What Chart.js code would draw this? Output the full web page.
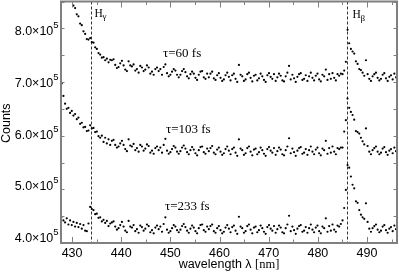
<!DOCTYPE html>
<html><head><meta charset="utf-8">
<script src="https://cdn.jsdelivr.net/npm/chart.js@4.4.1/dist/chart.umd.min.js"></script>
<style>html,body{margin:0;padding:0;background:#fff;overflow:hidden}canvas{display:block}</style>
</head><body>
<canvas id="c" width="399" height="272"></canvas>
<script>
// wavelength in nm
const wavelength = [
427.90,428.24,428.58,428.92,429.26,429.60,429.94,430.28,430.62,430.96,
431.30,431.64,431.98,432.32,432.66,433.00,433.34,433.68,434.02,434.36,
434.70,435.04,435.38,435.72,436.06,436.40,436.74,437.08,437.42,437.76,
438.10,438.44,438.78,439.12,439.46,439.80,440.14,440.48,440.82,441.16,
441.50,441.84,442.18,442.52,442.86,443.20,443.54,443.88,444.22,444.56,
444.90,445.24,445.58,445.92,446.26,446.60,446.94,447.28,447.62,447.96,
448.30,448.64,448.98,449.32,449.66,450.00,450.34,450.68,451.02,451.36,
451.70,452.04,452.38,452.72,453.06,453.40,453.74,454.08,454.42,454.76,
455.10,455.44,455.78,456.12,456.46,456.80,457.14,457.48,457.82,458.16,
458.50,458.84,459.18,459.52,459.86,460.20,460.54,460.88,461.22,461.56,
461.90,462.24,462.58,462.92,463.26,463.60,463.94,464.28,464.62,464.96,
465.30,465.64,465.98,466.32,466.66,467.00,467.34,467.68,468.02,468.36,
468.70,469.04,469.38,469.72,470.06,470.40,470.74,471.08,471.42,471.76,
472.10,472.44,472.78,473.12,473.46,473.80,474.14,474.48,474.82,475.16,
475.50,475.84,476.18,476.52,476.86,477.20,477.54,477.88,478.22,478.56,
478.90,479.24,479.58,479.92,480.26,480.60,480.94,481.28,481.62,481.96,
482.30,482.64,482.98,483.32,483.66,484.00,484.34,484.68,485.02,485.36,
485.70,486.04,486.38,486.72,487.06,487.40,487.74,488.08,488.42,488.76,
489.10,489.44,489.78,490.12,490.46,490.80,491.14,491.48,491.82,492.16,
492.50,492.84,493.18,493.52,493.86,494.20,494.54,494.88,495.22,495.56,
495.90];

// counts in thousands
const tau60 = [
930,909,896,877,868,855,850,841,836,824,
820,806,803,791,786,776,775,778,770,769,
760,757,749,746,740,741,735,738,731,736,
735,737,726,720,722,729,734,725,717,714,
733,725,723,727,715,718,711,724,721,714,
717,725,721,709,713,707,718,721,714,718,
707,722,727,710,704,707,713,718,715,707,
702,707,714,718,712,704,700,708,713,709,
701,697,707,713,714,702,699,709,702,709,
713,700,697,706,710,701,695,698,706,711,
703,696,706,709,699,693,726,707,704,695,
698,708,711,701,694,705,707,696,700,709,
704,697,693,706,710,703,699,708,695,702,
709,705,696,694,704,711,724,698,707,700,
693,703,708,710,697,699,706,695,704,711,
701,696,705,709,698,694,707,704,717,697,
708,699,710,701,696,708,705,709,708,715,
732,794,768,757,752,748,733,728,718,716,
711,705,735,708,699,695,704,708,711,701,
696,699,707,710,700,695,703,706,698,709,
702];

const tau103 = [
690,666,651,641,643,633,637,628,631,621,
624,612,614,605,606,598,599,609,603,604,
596,597,588,585,589,577,585,574,582,571,
579,581,571,566,568,574,579,571,563,559,
582,570,568,573,561,565,558,571,568,560,
564,572,569,556,560,554,565,568,561,566,
556,571,583,560,554,557,563,569,566,558,
554,559,566,570,564,557,553,561,567,562,
555,551,561,567,568,557,554,564,559,565,
569,556,553,562,566,558,552,555,563,568,
560,553,563,566,556,550,582,564,561,552,
555,565,568,558,551,562,564,553,557,566,
561,554,550,563,567,560,556,565,552,559,
566,562,553,551,561,568,584,555,564,557,
550,560,565,567,554,556,563,552,561,568,
558,553,562,566,555,551,564,561,579,554,
565,556,568,558,553,565,563,566,566,597,
619,661,643,635,629,620,598,596,593,585,
578,572,603,569,558,553,561,565,568,558,
553,556,564,567,557,552,560,563,555,566,
559];

const tau233 = [
432,425,421,429,417,425,416,422,413,420,
412,418,409,416,405,404,419,451,447,445,
437,438,430,431,423,426,420,424,414,419,
421,423,413,407,410,416,422,413,405,402,
424,413,411,416,404,408,401,415,412,405,
409,417,414,402,406,400,411,415,408,413,
403,418,431,407,401,404,410,416,413,406,
402,407,414,418,412,405,401,409,415,411,
404,400,410,416,417,406,403,413,408,414,
417,404,401,410,414,406,400,403,411,416,
409,402,412,415,405,399,432,413,410,401,
404,414,417,407,400,411,413,402,406,415,
410,403,399,412,416,409,405,414,401,408,
415,411,402,400,410,417,434,404,413,406,
399,409,414,416,403,405,412,401,410,417,
407,402,411,415,404,400,413,410,429,403,
414,405,417,407,403,415,413,418,425,449,
484,532,527,510,494,487,462,459,445,436,
431,428,458,422,409,403,410,414,417,407,
402,405,413,416,406,401,409,412,404,415,
408];

const seriesLabels = ['τ=60 fs', 'τ=103 fs', 'τ=233 fs'];
const seriesLabelX = [448.5, 449.1, 448.9];
const seriesLabelY = [740800, 593600, 445100];

const lineWavelengths = [433.9, 486.0];
const lineNames = ['γ', 'β'];
const lineLabelX = [434.56, 487.04];
const lineLabelY = [819400, 815900];

const xTickValues = [430, 440, 450, 460, 470, 480, 490];
const xTickLabels = ['430', '440', '450', '460', '470', '480', '490'];
const yTickValues = [400000, 500000, 600000, 700000, 800000];
const yTickLabels = ['4.0', '5.0', '6.0', '7.0', '8.0'];
const yTickExponent = '5';
const xTitle = 'wavelength λ';
const xUnit = '[nm]';
const yTitle = 'Counts';

const SANS = '"Liberation Sans", Arial, Helvetica, sans-serif';
const SERIF = '"Liberation Serif", "Times New Roman", Times, serif';

const decor = {
  id: 'decor',
  beforeDatasetsDraw(chart) {
    const {ctx, chartArea: a, scales: {x}} = chart;
    ctx.save();
    ctx.strokeStyle = '#333';
    ctx.lineWidth = 1;
    ctx.setLineDash([3, 2]);
    lineWavelengths.forEach(w => {
      const px = Math.round(x.getPixelForValue(w)) + 0.5;
      ctx.beginPath(); ctx.moveTo(px, a.top); ctx.lineTo(px, a.bottom); ctx.stroke();
    });
    ctx.restore();
  },
  afterDraw(chart) {
    const {ctx, chartArea: a, scales: {x, y}} = chart;
    ctx.save();
    ctx.fillStyle = '#000';
    ctx.textBaseline = 'alphabetic';
    // series labels
    ctx.font = '13px ' + SERIF;
    ctx.textAlign = 'left';
    seriesLabels.forEach((s, k) => ctx.fillText(s, x.getPixelForValue(seriesLabelX[k]), y.getPixelForValue(seriesLabelY[k])));
    // line labels
    lineNames.forEach((g, k) => {
      const px = x.getPixelForValue(lineLabelX[k]), py = y.getPixelForValue(lineLabelY[k]);
      ctx.font = '11.5px ' + SERIF;
      ctx.fillText('H', px, py);
      const w = ctx.measureText('H').width;
      ctx.font = '9px ' + SERIF;
      ctx.fillText(g, px + w - 0.3, py + 2.2);
    });
    // frame
    ctx.strokeStyle = '#808080';
    ctx.lineWidth = 2;
    ctx.strokeRect(a.left, a.top, a.right - a.left, a.bottom - a.top);
    // tick marks (inward, all four sides)
    ctx.lineWidth = 1;
    ctx.beginPath();
    x.ticks.forEach(t => {
      const major = Math.abs(t.value / 10 - Math.round(t.value / 10)) < 1e-6;
      const len = major ? 6 : 3.5;
      const px = Math.round(x.getPixelForValue(t.value)) + 0.5;
      ctx.moveTo(px, a.bottom); ctx.lineTo(px, a.bottom - len);
      ctx.moveTo(px, a.top); ctx.lineTo(px, a.top + len);
    });
    y.ticks.forEach(t => {
      const major = Math.abs(t.value / 100000 - Math.round(t.value / 100000)) < 1e-6;
      const len = major ? 6 : 3.5;
      const py = Math.round(y.getPixelForValue(t.value)) + 0.5;
      ctx.moveTo(a.left, py); ctx.lineTo(a.left + len, py);
      ctx.moveTo(a.right, py); ctx.lineTo(a.right - len, py);
    });
    ctx.stroke();
    // x tick labels
    ctx.font = '12.5px ' + SANS;
    ctx.textAlign = 'center';
    xTickValues.forEach((v, k) => ctx.fillText(xTickLabels[k], x.getPixelForValue(v), a.bottom + 13.7));
    // y tick labels with exponent
    yTickValues.forEach((v, k) => {
      const py = y.getPixelForValue(v);
      ctx.font = '12.5px ' + SANS;
      ctx.textAlign = 'right';
      ctx.fillText(yTickLabels[k] + '×10', a.left - 7.7, py + 8.6);
      ctx.font = '9.5px ' + SANS;
      ctx.textAlign = 'left';
      ctx.fillText(yTickExponent, a.left - 7.7, py + 1.6);
    });
    // x title
    ctx.font = '12.5px ' + SANS;
    const w1 = ctx.measureText(xTitle + ' ').width;
    ctx.font = '12.5px ' + SERIF;
    const w2 = ctx.measureText(xUnit).width;
    const cx = (a.left + a.right) / 2;
    const sx = cx - (w1 + w2) / 2;
    ctx.textAlign = 'left';
    ctx.font = '12.5px ' + SANS;
    ctx.fillText(xTitle + ' ', sx, a.bottom + 25.3);
    ctx.font = '12.5px ' + SERIF;
    ctx.fillText(xUnit, sx + w1, a.bottom + 25.3);
    // y title
    ctx.save();
    ctx.translate(9.5, (a.top + a.bottom) / 2 + 1);
    ctx.rotate(-Math.PI / 2);
    ctx.textAlign = 'center';
    ctx.font = '12.5px ' + SANS;
    ctx.fillText(yTitle, 0, 0);
    ctx.restore();
    ctx.restore();
  }
};

const mk = (arr, k) => ({
  label: seriesLabels[k],
  data: arr.map((v, i) => ({x: wavelength[i], y: v * 1000})),
  pointRadius: 1.1,
  pointBackgroundColor: '#000',
  pointBorderWidth: 0,
  pointHoverRadius: 0,
  showLine: false
});

const hiddenAxis = {
  grid: {display: false, drawTicks: false, tickLength: 0},
  border: {display: false},
  title: {display: false}
};

new Chart(document.getElementById('c'), {
  type: 'scatter',
  data: {datasets: [mk(tau60, 0), mk(tau103, 1), mk(tau233, 2)]},
  options: {
    responsive: false,
    animation: false,
    devicePixelRatio: 1,
    events: [],
    layout: {padding: {left: 61, right: 2, top: 1.5, bottom: 29}},
    plugins: {legend: {display: false}, tooltip: {enabled: false}},
    scales: {
      x: {type: 'linear', min: 427.75, max: 496.1, ...hiddenAxis,
          ticks: {display: false, stepSize: 5, includeBounds: false},
          afterFit: s => { s.height = 0; }},
      y: {type: 'linear', min: 381200, max: 848800, ...hiddenAxis,
          ticks: {display: false, stepSize: 50000, includeBounds: false},
          afterFit: s => { s.width = 0; }}
    }
  },
  plugins: [decor]
});
</script>
</body></html>
